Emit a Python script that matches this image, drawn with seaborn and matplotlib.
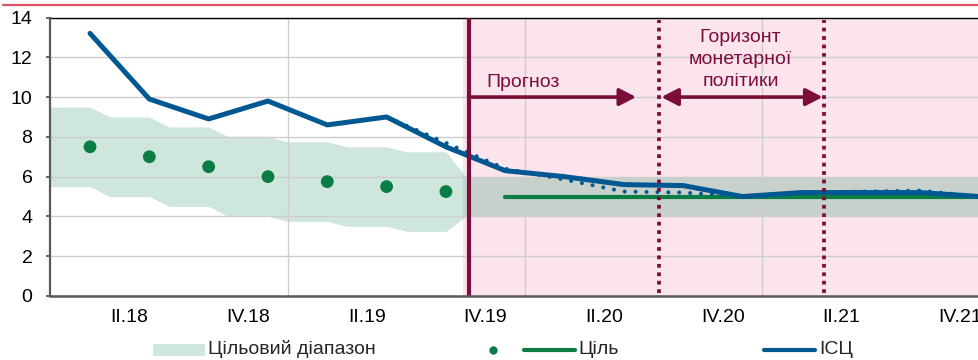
import matplotlib
matplotlib.use("Agg")
import matplotlib.pyplot as plt
from matplotlib.patches import Rectangle, FancyArrowPatch
from matplotlib.lines import Line2D
import seaborn as sns
import pandas as pd

# ---------------- data ----------------
quarters = ["I.18", "II.18", "III.18", "IV.18", "I.19", "II.19", "III.19", "IV.19",
            "I.20", "II.20", "III.20", "IV.20", "I.21", "II.21", "III.21", "IV.21"]
isc = [13.2, 9.9, 8.9, 9.8, 8.6, 9.0, 7.5, 6.3, 6.0, 5.6, 5.55, 5.0, 5.2, 5.2, 5.2, 5.0]
prev_quarters = ["II.19", "III.19", "IV.19", "I.20", "II.20", "III.20", "IV.20",
                 "I.21", "II.21", "III.21", "IV.21"]
prev_forecast = [9.0, 7.7, 6.4, 5.85, 5.25, 5.2, 5.0, 5.2, 5.25, 5.3, 5.0]
target_dot_quarters = ["I.18", "II.18", "III.18", "IV.18", "I.19", "II.19", "III.19"]
target_dots = [7.5, 7.0, 6.5, 6.0, 5.75, 5.5, 5.25]
target_line_quarters = ["IV.19", "I.20", "II.20", "III.20", "IV.20", "I.21", "II.21", "III.21", "IV.21"]
target_line = [5.0, 5.0, 5.0, 5.0, 5.0, 5.0, 5.0, 5.0, 5.0]
# target band (monthly index from Jan 2018)
band_months = [0, 2, 3, 5, 6, 8, 9, 11, 12, 14, 15, 17, 18, 20, 21, 47]
band_upper = [9.5, 9.5, 9.0, 9.0, 8.5, 8.5, 8.0, 8.0, 7.75, 7.75, 7.5, 7.5, 7.25, 7.25, 6.0, 6.0]
band_lower = [5.5, 5.5, 5.0, 5.0, 4.5, 4.5, 4.0, 4.0, 3.75, 3.75, 3.5, 3.5, 3.25, 3.25, 4.0, 4.0]
tick_labels = ["II.18", "IV.18", "II.19", "IV.19", "II.20", "IV.20", "II.21", "IV.21"]
labels_text = {"forecast": "Прогноз", "horizon": "Горизонт\nмонетарної\nполітики",
               "band": "Цільовий діапазон", "target": "Ціль", "isc": "ІСЦ"}
forecast_start = 21.15   # month index of the forecast start line
horizon_start = 30.8
horizon_end = 39.15
pink_start = 20.85


def qpos(q):
    """x position (months from Jan 2018) of a quarter's data point."""
    return quarters.index(q) * 3 + 2


def qlabel_pos(q):
    return quarters.index(q) * 3 + 1


# ---------------- style ----------------
sns.set_theme(style="white")
plt.rcParams["font.family"] = ["Liberation Sans", "DejaVu Sans"]

BLUE = "#005893"
GREEN = "#0A7D45"
MAROON = "#7B0D3A"
PINK = "#FCE4EC"
BAND = "#CFE6DC"
BAND_OVER = "#C8D0CB"
GRID = "#CDCDCD"
SPINE = "#595959"

W, H = 979, 360
fig = plt.figure(figsize=(W / 100, H / 100), dpi=100)
ax_l, ax_r, ax_t, ax_b = 50.5, 979, 17.5, 296
ax = fig.add_axes([ax_l / W, 1 - ax_b / H, (ax_r - ax_l) / W, (ax_b - ax_t) / H])

# shaded forecast region
ax.axvspan(pink_start, 60, color=PINK, lw=0, zorder=0.1)

# target band: green before the forecast area, grey inside it
b1 = ax.fill_between(band_months, band_lower, band_upper, color=BAND, lw=0, zorder=0.2)
b1.set_clip_path(Rectangle((-5, -5), pink_start + 5, 30, transform=ax.transData))
b2 = ax.fill_between(band_months, band_lower, band_upper, color=BAND_OVER, lw=0, zorder=0.2)
b2.set_clip_path(Rectangle((pink_start, -5), 40, 30, transform=ax.transData))

df_isc = pd.DataFrame({"x": [qpos(q) for q in quarters], "y": isc})
df_prev = pd.DataFrame({"x": [qpos(q) for q in prev_quarters], "y": prev_forecast})
df_dots = pd.DataFrame({"x": [qpos(q) for q in target_dot_quarters], "y": target_dots})
df_tl = pd.DataFrame({"x": [qpos(q) for q in target_line_quarters], "y": target_line})

sns.lineplot(data=df_tl, x="x", y="y", ax=ax, color=GREEN, linewidth=3.0,
             solid_capstyle="round", zorder=3)
sns.scatterplot(data=df_dots, x="x", y="y", ax=ax, color=GREEN, s=85,
                edgecolor="none", zorder=3)
sns.lineplot(data=df_prev, x="x", y="y", ax=ax, color=BLUE, linewidth=2.9,
             linestyle=(0, (0.01, 2.7)), dash_capstyle="round", zorder=3.5)
sns.lineplot(data=df_isc, x="x", y="y", ax=ax, color=BLUE, linewidth=3.6,
             solid_capstyle="round", solid_joinstyle="round", zorder=4)

# forecast line and horizon lines
ax.axvline(forecast_start, color=MAROON, lw=3.0, zorder=6)
for xv in (horizon_start, horizon_end):
    ax.axvline(xv, ymin=0.01, ymax=0.99, color=MAROON, lw=2.7,
               linestyle=(0, (1.0, 1.25)), dash_capstyle="butt", zorder=6)

# arrows
arr1 = FancyArrowPatch((forecast_start, 10), (29.62, 10),
                       arrowstyle="-|>,head_length=10,head_width=5.2",
                       mutation_scale=1, color=MAROON, lw=2.6,
                       shrinkA=0, shrinkB=0, zorder=7)
ax.add_patch(arr1)
arr2 = FancyArrowPatch((30.9, 10), (39.05, 10),
                       arrowstyle="<|-|>,head_length=10,head_width=5.2",
                       mutation_scale=1, color=MAROON, lw=2.6,
                       shrinkA=0, shrinkB=0, zorder=7)
ax.add_patch(arr2)

ax.text(23.9, 10.5, labels_text["forecast"], color=MAROON, fontsize=14,
        ha="center", va="baseline", zorder=8)
ax.text(34.9, 11.9, labels_text["horizon"], color=MAROON, fontsize=14,
        ha="center", va="center", linespacing=1.38, zorder=8)

# axes
ax.set_xlim(0, (ax_r - ax_l) / 19.77)
ax.set_ylim(0, 14)
ax.set_yticks(range(0, 15, 2))
ax.set_xticks([qlabel_pos(q) for q in tick_labels])
ax.set_xticklabels(tick_labels)
ax.set_xticks([12, 24, 36], minor=True)
ax.set_xlabel("")
ax.set_ylabel("")
ax.set_axisbelow(True)
ax.grid(axis="y", which="major", color=GRID, lw=1.0, zorder=0.5)
ax.grid(axis="x", which="minor", color=GRID, lw=1.0, zorder=0.5)
ax.grid(axis="x", which="major", visible=False)
ax.tick_params(axis="y", which="major", length=3, width=1.3, color=SPINE,
               pad=10, labelsize=14, labelcolor="black", left=True)
ax.tick_params(axis="x", which="both", length=0, pad=9.5, labelsize=14,
               labelcolor="black")
ax.spines["right"].set_visible(False)
ax.spines["top"].set_color("black")
ax.spines["top"].set_linewidth(1.0)
ax.spines["left"].set_color(SPINE)
ax.spines["left"].set_linewidth(1.6)
ax.spines["bottom"].set_color(SPINE)
ax.spines["bottom"].set_linewidth(1.8)
ax.spines["left"].set_zorder(9)
ax.spines["bottom"].set_zorder(9)


# ---------------- legend (drawn in figure pixels) ----------------
def fx(x):
    return x / W


def fy(y):
    return 1 - y / H


ly = 349.5
fig.add_artist(Rectangle((fx(153), fy(355.5)), fx(205) - fx(153), (355.5 - 344) / H,
                         transform=fig.transFigure, color=BAND, lw=0))
fig.text(fx(208), fy(ly), labels_text["band"], fontsize=14, va="center", ha="left")
fig.add_artist(Line2D([fx(493)], [fy(ly)], marker="o", markersize=6, color=GREEN,
                      markeredgewidth=0, transform=fig.transFigure))
fig.add_artist(Line2D([fx(524), fx(575)], [fy(ly), fy(ly)], color=GREEN, lw=3.0,
                      solid_capstyle="round", transform=fig.transFigure))
fig.text(fx(578), fy(ly), labels_text["target"], fontsize=14, va="center", ha="left")
fig.add_artist(Line2D([fx(764), fx(815)], [fy(ly), fy(ly)], color=BLUE, lw=3.0,
                      solid_capstyle="round", transform=fig.transFigure))
fig.text(fx(819), fy(ly), labels_text["isc"], fontsize=14, va="center", ha="left")

# top separator line
fig.add_artist(Line2D([fx(3), 1], [fy(5), fy(5)], color="#DC5064", lw=1.6,
                      transform=fig.transFigure))

fig.savefig("out.png", dpi=100)
